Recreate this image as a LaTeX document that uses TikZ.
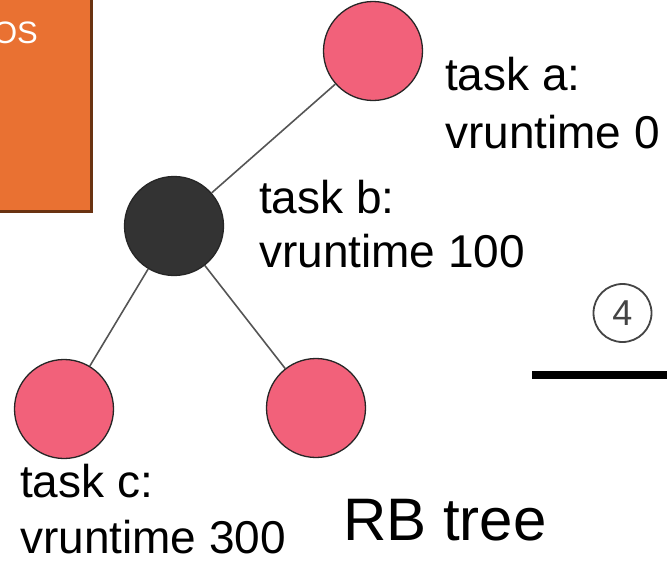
\documentclass[tikz,border=0pt]{standalone}
\usepackage{fontspec}
\setmainfont{Liberation Sans}
\definecolor{pinknode}{HTML}{F2617A}
\definecolor{darknode}{HTML}{333333}
\definecolor{osorange}{HTML}{E97132}
\definecolor{osborder}{HTML}{6A3312}
\definecolor{edgegray}{HTML}{555555}
\definecolor{markgray}{HTML}{444444}
\tikzset{
  rednode/.style={circle,draw=black!85,line width=1.3pt,fill=pinknode,minimum size=99pt,inner sep=0pt},
  blacknode/.style={circle,draw=black!85,line width=1.3pt,fill=darknode,minimum size=99pt,inner sep=0pt},
  treeedge/.style={draw=edgegray,line width=1.6pt},
  lbl/.style={font=\fontsize{46}{54}\selectfont,inner sep=0pt,anchor=base west},
}
\begin{document}
\begin{tikzpicture}[x=1pt,y=-1pt]
\useasboundingbox (0,0) rectangle (667,563);
\clip (0,0) rectangle (667,563);
% OS box
\fill[osborder] (-20,-20) rectangle (93,213);
\fill[osorange] (-20,-20) rectangle (90,210);
\node[font=\fontsize{31}{36}\selectfont,text=white,inner sep=0pt,anchor=base east] (os) at (38,43) {OS};
% tree nodes
\node[rednode] (a) at (373,51) {};
\node[blacknode] (b) at (174,226) {};
\node[rednode] (c) at (64,409) {};
\node[rednode] (d) at (316,408) {};
\draw[treeedge] (a) -- (b);
\draw[treeedge] (b) -- (c);
\draw[treeedge] (b) -- (d);
% labels
\node[lbl] (la1) at (445,90) {task a:};
\node[lbl] (la2) at (445,148) {vruntime 0};
\node[lbl] (lb1) at (259,213) {task b:};
\node[lbl] (lb2) at (259,267) {vruntime 100};
\node[lbl] (lc1) at (20,497) {task c:};
\node[lbl] (lc2) at (20,553) {vruntime 300};
\node[font=\fontsize{60}{70}\selectfont,inner sep=0pt,anchor=base west] (title) at (343,540) {RB tree};
% step mark
\node[circle,draw=markgray,line width=1.8pt,minimum size=58pt,inner sep=0pt,text=markgray,font=\fontsize{36}{40}\selectfont] (four) at (622.5,313) {4};
\coordinate (barl) at (532,375);
\coordinate (barr) at (680,375);
\draw[line width=8pt,black] (barl) -- (barr);
\end{tikzpicture}
\end{document}
